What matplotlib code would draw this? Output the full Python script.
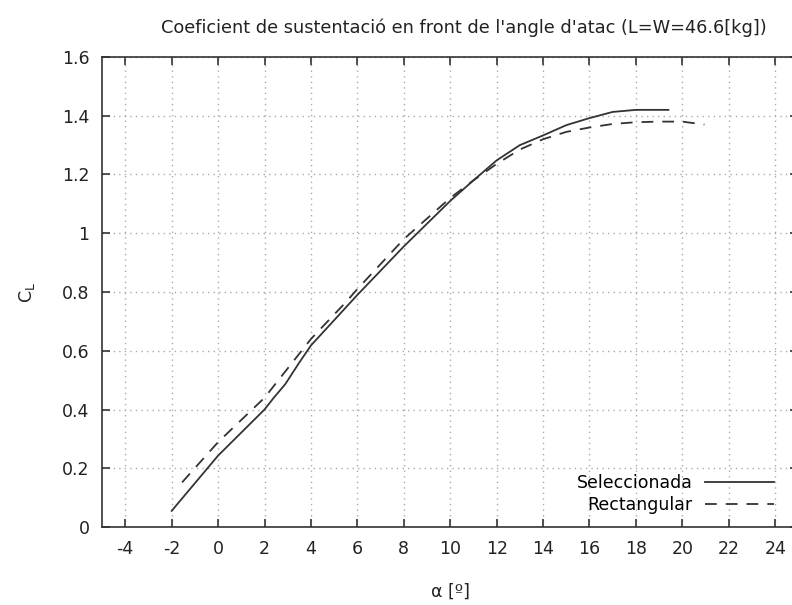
import numpy as np
import matplotlib.pyplot as plt

# angle of attack [deg] and lift coefficient for each wing
alpha_sel = [-2, 0, 2, 2.4, 2.9, 3.5, 4, 6, 8, 10, 11, 12, 13, 14, 15, 16, 17, 18, 19.4]
cl_sel = [0.055, 0.243, 0.40, 0.44, 0.487, 0.56, 0.618, 0.79, 0.955, 1.11, 1.18, 1.248, 1.30, 1.333, 1.368, 1.392, 1.413, 1.42, 1.42]

alpha_rect = [-1.55, 0, 2, 4, 5.5, 6, 8, 10, 11, 12, 13, 14, 15, 16, 17, 18, 19, 20, 20.95]
cl_rect = [0.152, 0.289, 0.44, 0.64, 0.765, 0.81, 0.98, 1.12, 1.18, 1.236, 1.285, 1.32, 1.345, 1.36, 1.372, 1.378, 1.38, 1.38, 1.37]

xticks = np.arange(-4, 25, 2)
yticks = np.arange(0, 1.61, 0.2)
ytick_labels = ["0", "0.2", "0.4", "0.6", "0.8", "1", "1.2", "1.4", "1.6"]

plt.rcParams['font.family'] = ['DejaVu Sans']
plt.rcParams['axes.unicode_minus'] = False

fig = plt.figure(figsize=(7.92, 6.05), dpi=100)
ax = fig.add_axes([0.1288, 0.1289, 0.8793, 0.7769])

ax.plot(alpha_sel, cl_sel, color="#333333", lw=1.3, label="Seleccionada")
ax.plot(alpha_rect, cl_rect, color="#333333", lw=1.3, linestyle=(0, (6.5, 5)), label="Rectangular")

ax.set_xlim(-5, 25)
ax.set_ylim(0, 1.6)
ax.set_xticks(xticks)
ax.set_yticks(yticks)
ax.set_yticklabels(ytick_labels)
ax.tick_params(direction="in", top=True, right=True, length=6, width=1.2, color="#333333",
               labelsize=12.5, pad=9, labelcolor="#222222")
ax.grid(True, linestyle=(0, (1, 3)), color="#aaaaaa", lw=1)
for s in ax.spines.values():
    s.set_color("#333333")
    s.set_linewidth(1.2)

ax.set_title("Coeficient de sustentació en front de l'angle d'atac (L=W=46.6[kg])",
             fontsize=12.8, pad=17, color="#222222", x=0.519)
ax.set_xlabel("α [º]", fontsize=12.5, labelpad=18, color="#222222")
ax.set_ylabel(r"$\mathregular{C_L}$", fontsize=12.5, labelpad=18, color="#222222")

ax.legend(loc="lower right", bbox_to_anchor=(0.975, 0.013), frameon=False, markerfirst=False,
          fontsize=12.5, handlelength=4.0, handletextpad=0.7, labelspacing=0.2, borderaxespad=0)

fig.savefig("out.png", dpi=100)
